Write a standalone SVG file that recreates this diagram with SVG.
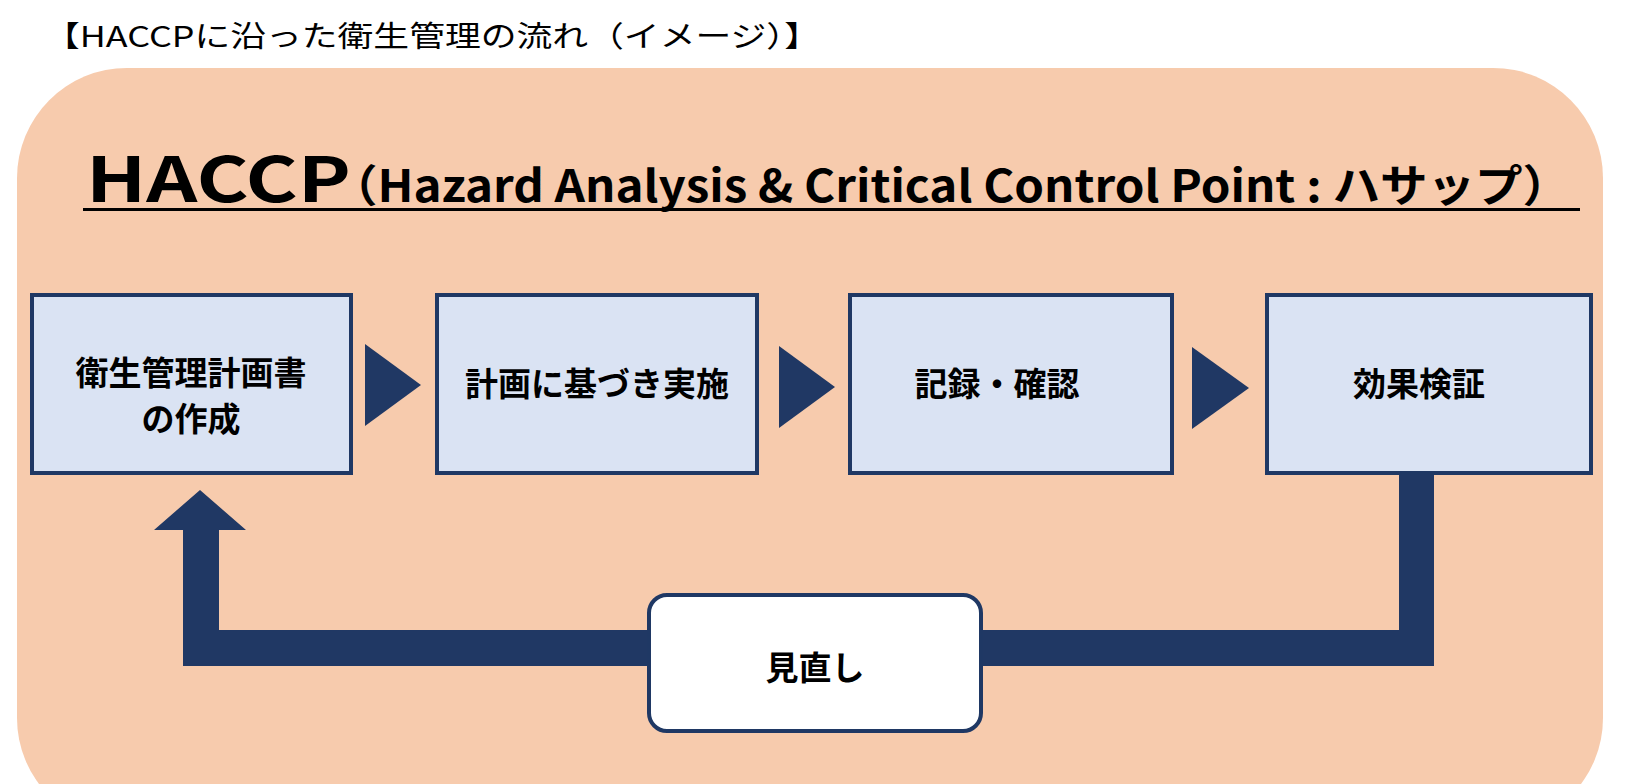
<svg xmlns="http://www.w3.org/2000/svg" width="1627" height="784" viewBox="0 0 1627 784">
<style>
.t{font-family:"Noto Sans CJK JP","Noto Sans",sans-serif;fill:#000}
.box{fill:#dae3f3;stroke:#1f3864;stroke-width:4}
.lbl{font-family:"Noto Sans CJK JP",sans-serif;font-weight:bold;font-size:33px;text-anchor:middle;fill:#000}
.dk{fill:#203864}
</style>
<rect width="1627" height="784" fill="#fff"/>
<text class="t" x="44" y="47" font-size="29" textLength="776" lengthAdjust="spacingAndGlyphs">【HACCPに沿った衛生管理の流れ（イメージ）】</text>
<rect x="17" y="68" width="1586" height="760" rx="110" ry="110" fill="#f7cbad"/>
<g id="heading">
<text class="t" x="86" y="202" font-weight="bold" font-size="62" textLength="265" lengthAdjust="spacingAndGlyphs">HACCP</text>
<text class="t" x="330" y="202" font-weight="bold" font-size="44" textLength="1240" lengthAdjust="spacingAndGlyphs">（Hazard Analysis &amp; Critical Control Point : ハサップ）</text>
<rect x="83" y="208" width="1497" height="3" fill="#000"/>
</g>
<g id="connectors">
<polygon class="dk" points="365,344 421,385 365,426"/>
<polygon class="dk" points="779,346 835,387 779,428"/>
<polygon class="dk" points="1192,347 1249,388 1192,429"/>
<polygon class="dk" points="1399,473 1434,473 1434,666 981,666 981,630 1399,630"/>
<polygon class="dk" points="647,630 647,666 183,666 183,530 154,530 200,490 246,530 219,530 219,630"/>
</g>
<g id="n1"><rect class="box" x="32" y="295" width="319" height="178"/>
<text class="lbl" x="191" y="385">衛生管理計画書</text><text class="lbl" x="191" y="431">の作成</text></g>
<g id="n2"><rect class="box" x="437" y="295" width="320" height="178"/>
<text class="lbl" x="597" y="396">計画に基づき実施</text></g>
<g id="n3"><rect class="box" x="850" y="295" width="322" height="178"/>
<text class="lbl" x="997" y="396">記録・確認</text></g>
<g id="n4"><rect class="box" x="1267" y="295" width="324" height="178"/>
<text class="lbl" x="1419" y="396">効果検証</text></g>
<g id="n5"><rect x="649" y="595" width="332" height="136" rx="18" fill="#fff" stroke="#1f3864" stroke-width="4"/>
<text class="lbl" x="815" y="680">見直し</text></g>
</svg>
